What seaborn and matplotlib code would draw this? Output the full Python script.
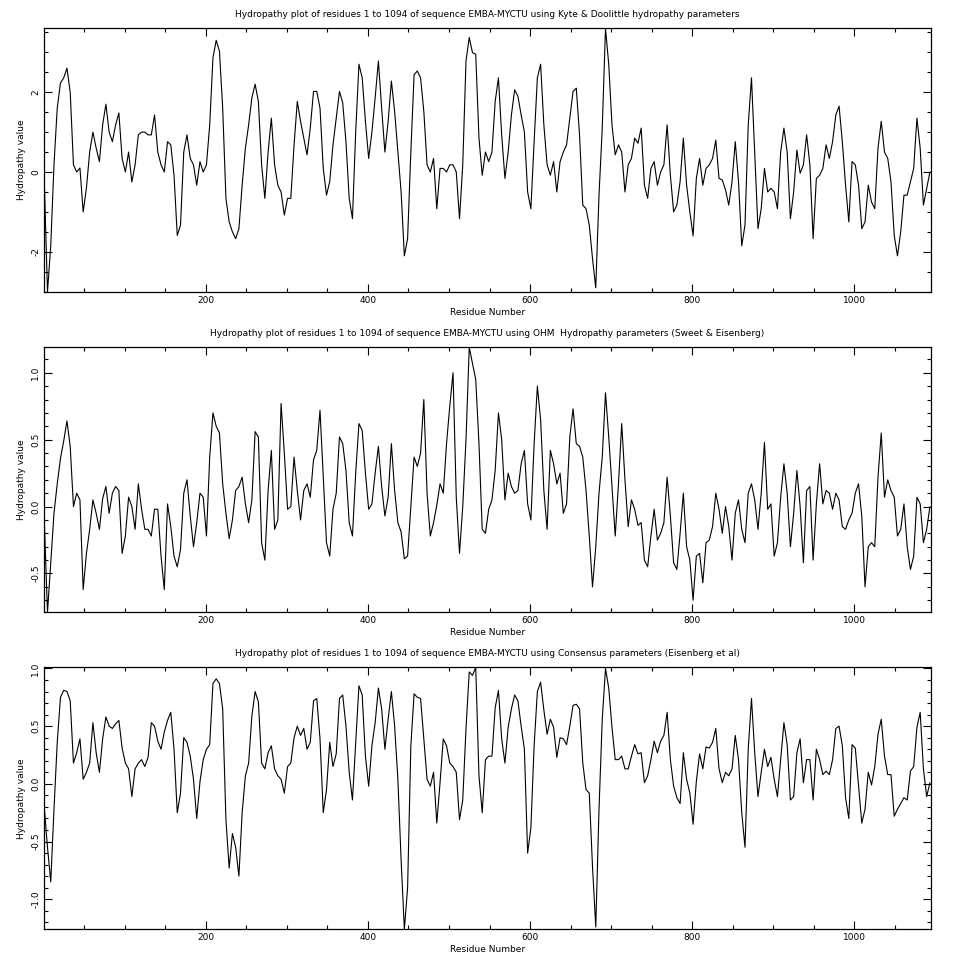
import numpy as np
import pandas as pd
import matplotlib
matplotlib.use("Agg")
import matplotlib.pyplot as plt
import seaborn as sns
from matplotlib.ticker import MultipleLocator, FormatStrFormatter

sns.set_style("ticks")
plt.rcParams['font.family'] = ['DejaVu Sans']
plt.rcParams['axes.unicode_minus'] = False
plt.rcParams['text.color'] = 'black'
plt.rcParams['axes.labelcolor'] = 'black'

# residue positions sampled every 4 residues (sequence length 1094)
residues = np.arange(1, 1094, 4)

# Kyte & Doolittle hydropathy values
kd = [
    -0.2, -3.0, -1.85, 0.18, 1.6, 2.23, 2.36, 2.6, 2.0, 0.18,
    0.0, 0.1, -1.0, -0.4, 0.5, 1.0, 0.6, 0.26, 1.18, 1.7,
    1.0, 0.76, 1.18, 1.48, 0.34, 0.0, 0.5, -0.25, 0.18, 0.93,
    1.0, 1.0, 0.93, 0.93, 1.43, 0.5, 0.18, 0.0, 0.76, 0.68,
    -0.08, -1.59, -1.33, 0.5, 0.93, 0.34, 0.18, -0.33, 0.26, 0.0,
    0.18, 1.18, 2.86, 3.3, 3.03, 1.6, -0.66, -1.25, -1.5, -1.67,
    -1.42, -0.33, 0.6, 1.18, 1.86, 2.2, 1.77, 0.18, -0.66, 0.5,
    1.35, 0.18, -0.33, -0.5, -1.08, -0.66, -0.66, 0.68, 1.77, 1.27,
    0.85, 0.43, 1.1, 2.02, 2.02, 1.6, 0.09, -0.58, -0.24, 0.68,
    1.35, 2.02, 1.73, 0.76, -0.66, -1.17, 1.0, 2.7, 2.36, 1.27,
    0.34, 1.0, 1.86, 2.78, 1.6, 0.5, 1.27, 2.28, 1.52, 0.5,
    -0.5, -2.1, -1.67, 0.5, 2.44, 2.53, 2.36, 1.52, 0.18, 0.0,
    0.34, -0.92, 0.09, 0.09, 0.0, 0.18, 0.18, 0.0, -1.17, 0.18,
    2.78, 3.37, 2.99, 2.95, 0.85, -0.08, 0.5, 0.26,
    0.5, 1.77, 2.36, 0.93, -0.16, 0.5, 1.43, 2.06, 1.9, 1.43,
    1.0, -0.5, -0.92, 0.76, 2.36, 2.7, 1.18, 0.18, -0.08, 0.26,
    -0.5, 0.26, 0.5, 0.68, 1.35, 2.02, 2.1, 0.93, -0.83, -0.92,
    -1.33, -2.17, -2.9, -0.58, 1.1, 3.6, 2.7, 1.18, 0.43, 0.68,
    0.5, -0.5, 0.18, 0.34, 0.85, 0.72, 1.1, -0.33, -0.66, 0.09,
    0.26, -0.33, 0.0, 0.18, 1.18, -0.08, -1.0, -0.83, -0.24, 0.85,
    -0.33, -1.0, -1.6, -0.16, 0.34, -0.33, 0.09,
    0.18, 0.34, 0.8, -0.16, -0.2, -0.45, -0.83, -0.24, 0.76, -0.24,
    -1.85, -1.33, 1.18, 2.36, 0.5, -1.42, -0.92, 0.09, -0.5, -0.41,
    -0.5, -0.92, 0.5, 1.1, 0.5, -1.17, -0.5, 0.55, -0.03, 0.18,
    0.93, 0.18, -1.67, -0.16, -0.08, 0.09, 0.68, 0.34, 0.76, 1.43,
    1.65, 0.76, -0.33, -1.25, 0.26, 0.18, -0.33, -1.42, -1.25, -0.33,
    -0.75, -0.92, 0.6, 1.27, 0.5, 0.34, -0.24, -1.59, -2.1, -1.5,
    -0.58, -0.58, -0.24, 0.09, 1.35, 0.6, -0.83, -0.41, 0.0,
]

# OHM hydropathy values (Sweet & Eisenberg)
ohm = [
    -0.1, -0.79, -0.42, -0.05, 0.17, 0.36, 0.49, 0.64, 0.45, 0.0,
    0.1, 0.05, -0.62, -0.35, -0.17, 0.05, -0.05, -0.17, 0.06, 0.15,
    -0.05, 0.1, 0.15, 0.12, -0.35, -0.22, 0.07, 0.0, -0.17, 0.17,
    -0.02, -0.17, -0.17, -0.22, -0.02, -0.02, -0.37, -0.62, 0.02, -0.15,
    -0.37, -0.45, -0.32, 0.1, 0.2, -0.07, -0.3, -0.12, 0.1, 0.07,
    -0.22, 0.37, 0.7, 0.6, 0.55, 0.17, -0.05, -0.24, -0.1, 0.12,
    0.15, 0.22, 0.02, -0.12, 0.05, 0.56, 0.52, -0.27, -0.4, 0.12,
    0.42, -0.17, -0.1, 0.77, 0.4, -0.02, 0.0, 0.37, 0.12, -0.1,
    0.12, 0.17, 0.07, 0.35, 0.42, 0.72, 0.22, -0.27, -0.37, -0.02,
    0.1, 0.52, 0.47, 0.27, -0.12, -0.22, 0.25, 0.62, 0.57, 0.25,
    -0.02, 0.02, 0.25, 0.45, 0.15, -0.07, 0.07, 0.47, 0.12, -0.12,
    -0.19, -0.39, -0.37, 0.0, 0.37, 0.3, 0.4, 0.8, 0.1, -0.22,
    -0.12, 0.01, 0.17, 0.1, 0.47, 0.75, 1.0, 0.07, -0.35, 0.0,
    0.5, 1.19, 1.07, 0.95, 0.47, -0.17, -0.2, -0.02,
    0.05, 0.27, 0.7, 0.5, 0.05, 0.25, 0.15, 0.1, 0.12, 0.32,
    0.42, 0.02, -0.1, 0.47, 0.9, 0.65, 0.12, -0.17, 0.42, 0.32,
    0.17, 0.25, -0.05, 0.02, 0.52, 0.73, 0.47, 0.45, 0.37, 0.12,
    -0.22, -0.6, -0.3, 0.1, 0.37, 0.85, 0.52, 0.15, -0.22, 0.17,
    0.62, 0.2, -0.15, 0.05, -0.02, -0.14, -0.12, -0.4, -0.45, -0.22,
    -0.02, -0.25, -0.2, -0.12, 0.22, -0.07, -0.42, -0.47, -0.2, 0.1,
    -0.3, -0.4, -0.7, -0.37, -0.35, -0.57, -0.27,
    -0.25, -0.15, 0.1, -0.02, -0.2, 0.0, -0.15, -0.4, -0.05, 0.05,
    -0.17, -0.27, 0.1, 0.17, 0.05, -0.17, 0.1, 0.48, -0.02, 0.02,
    -0.37, -0.27, 0.07, 0.32, 0.1, -0.3, -0.05, 0.27, 0.0, -0.42,
    0.12, 0.15, -0.4, 0.02, 0.32, 0.02, 0.12, 0.1, -0.02, 0.1,
    0.05, -0.15, -0.17, -0.1, -0.05, 0.1, 0.17, -0.07, -0.6, -0.3,
    -0.27, -0.3, 0.22, 0.55, 0.07, 0.2, 0.12, 0.07, -0.22, -0.17,
    0.02, -0.3, -0.47, -0.37, 0.07, 0.02, -0.27, -0.17, 0.0,
]

# Consensus hydropathy values (Eisenberg et al)
cons = [
    -0.2, -0.55, -0.85, -0.22, 0.36, 0.75, 0.81, 0.8, 0.72, 0.18,
    0.27, 0.39, 0.04, 0.1, 0.18, 0.53, 0.27, 0.1, 0.39, 0.58,
    0.5, 0.48, 0.52, 0.55, 0.31, 0.18, 0.13, -0.11, 0.13, 0.18,
    0.21, 0.15, 0.23, 0.53, 0.5, 0.37, 0.3, 0.45, 0.55, 0.62,
    0.3, -0.25, -0.08, 0.4, 0.36, 0.24, 0.04, -0.3, 0.02, 0.21,
    0.3, 0.34, 0.87, 0.91, 0.87, 0.65, -0.31, -0.73, -0.43, -0.55,
    -0.8, -0.25, 0.07, 0.18, 0.59, 0.8, 0.71, 0.18, 0.13, 0.27,
    0.33, 0.13, 0.07, 0.04, -0.08, 0.15, 0.18, 0.4, 0.5, 0.42,
    0.48, 0.3, 0.36, 0.72, 0.74, 0.39, -0.25, -0.05, 0.36, 0.15,
    0.26, 0.74, 0.77, 0.5, 0.1, -0.14, 0.36, 0.85, 0.77, 0.24,
    -0.02, 0.33, 0.53, 0.83, 0.65, 0.3, 0.56, 0.8, 0.5, 0.04,
    -0.66, -1.26, -0.9, 0.33, 0.78, 0.75, 0.74, 0.39, 0.04, -0.02,
    0.1, -0.34, 0.01, 0.39, 0.33, 0.18, 0.15, 0.1, -0.31, -0.14,
    0.48, 0.97, 0.94, 1.01, 0.07, -0.25, 0.21, 0.24,
    0.24, 0.66, 0.81, 0.39, 0.18, 0.49, 0.65, 0.77, 0.72, 0.5,
    0.3, -0.6, -0.38, 0.33, 0.8, 0.88, 0.64, 0.43, 0.56, 0.49,
    0.23, 0.4, 0.39, 0.34, 0.5, 0.68, 0.69, 0.65, 0.18, -0.05,
    -0.08, -0.72, -1.24, -0.22, 0.56, 1.0, 0.83, 0.49, 0.21, 0.21,
    0.24, 0.13, 0.13, 0.24, 0.34, 0.26, 0.27, 0.01, 0.07, 0.21,
    0.37, 0.27, 0.37, 0.42, 0.62, 0.21, -0.02, -0.12, -0.17, 0.27,
    0.04, -0.08, -0.35, 0.02, 0.26, 0.13, 0.32,
    0.31, 0.36, 0.48, 0.13, 0.01, 0.1, 0.07, 0.13, 0.42, 0.21,
    -0.25, -0.55, 0.3, 0.74, 0.27, -0.11, 0.1, 0.3, 0.15, 0.23,
    0.04, -0.11, 0.21, 0.53, 0.34, -0.14, -0.11, 0.27, 0.39, 0.01,
    0.21, 0.21, -0.14, 0.3, 0.21, 0.08, 0.11, 0.08, 0.21, 0.48,
    0.5, 0.33, -0.12, -0.3, 0.34, 0.31, -0.01, -0.34, -0.22, 0.1,
    -0.01, 0.15, 0.43, 0.56, 0.24, 0.08, 0.08, -0.28, -0.22, -0.17,
    -0.12, -0.14, 0.11, 0.15, 0.49, 0.62, 0.13, -0.11, 0.01,
]

titles = [
    "Hydropathy plot of residues 1 to 1094 of sequence EMBA-MYCTU using Kyte & Doolittle hydropathy parameters",
    "Hydropathy plot of residues 1 to 1094 of sequence EMBA-MYCTU using OHM  Hydropathy parameters (Sweet & Eisenberg)",
    "Hydropathy plot of residues 1 to 1094 of sequence EMBA-MYCTU using Consensus parameters (Eisenberg et al)",
]
x_label = "Residue Number"
y_label = "Hydropathy value"

series = [kd, ohm, cons]
y_major = [2.0, 0.5, 0.5]
y_minor = [0.5, 0.1, 0.1]
y_fmt = ["%d", "%.1f", "%.1f"]
boxes = [
    [0.0461, 0.6961, 0.9234, 0.2744],
    [0.0461, 0.3622, 0.9234, 0.2760],
    [0.0461, 0.0320, 0.9234, 0.2729],
]

fig = plt.figure(figsize=(9.6, 9.6), dpi=100)
fs = 6.5
for vals, title, ymaj, ymin_, fmt, box in zip(series, titles, y_major, y_minor, y_fmt, boxes):
    ax = fig.add_axes(box)
    df = pd.DataFrame({"residue": residues, "value": vals})
    sns.lineplot(data=df, x="residue", y="value", ax=ax, color="black",
                 linewidth=0.8, estimator=None, sort=False)
    ax.set_xlim(1, 1094)
    ax.set_ylim(min(vals), max(vals))
    ax.xaxis.set_major_locator(MultipleLocator(200))
    ax.xaxis.set_minor_locator(MultipleLocator(50))
    ax.yaxis.set_major_locator(MultipleLocator(ymaj))
    ax.yaxis.set_minor_locator(MultipleLocator(ymin_))
    ax.yaxis.set_major_formatter(FormatStrFormatter(fmt))
    ax.tick_params(which="both", direction="in", top=True, right=True,
                   labelsize=fs, width=0.8, colors="black", pad=3)
    ax.tick_params(which="major", length=5.5)
    ax.tick_params(which="minor", length=3)
    for lab in ax.get_yticklabels():
        lab.set_rotation(90)
        lab.set_va("center")
    for sp in ax.spines.values():
        sp.set_linewidth(0.9)
        sp.set_color("black")
    ax.set_title(title, fontsize=fs, pad=8, color="black")
    ax.set_xlabel(x_label, fontsize=fs, labelpad=2, color="black")
    ax.set_ylabel(y_label, fontsize=fs, labelpad=4, color="black")

fig.savefig("out.png", dpi=100, facecolor="white")
